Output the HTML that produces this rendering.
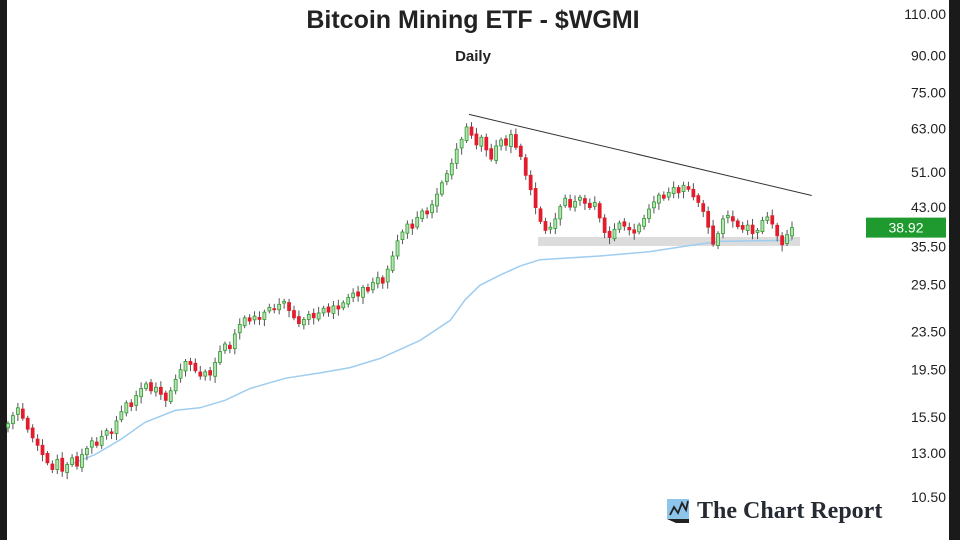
<!DOCTYPE html>
<html><head><meta charset="utf-8">
<style>
html,body{margin:0;padding:0;background:#fff;}
body{width:960px;height:540px;overflow:hidden;position:relative;font-family:"Liberation Sans",sans-serif;}
</style></head>
<body>
<svg id="chart" width="960" height="540" viewBox="0 0 960 540" xmlns="http://www.w3.org/2000/svg">
  <rect x="0" y="0" width="960" height="540" fill="#fff"/>
  <rect x="0" y="0" width="7" height="540" fill="#1a1a1a"/>
  <rect x="949" y="0" width="11" height="540" fill="#1a1a1a"/>
  <text x="473" y="28" text-anchor="middle" font-size="25" font-weight="bold" fill="#222">Bitcoin Mining ETF - $WGMI</text>
  <text x="473" y="61" text-anchor="middle" font-size="15" font-weight="bold" fill="#222">Daily</text>
  <g id="bands"></g>
  <g id="ma"></g>
  <g id="candles"></g>
  <g id="overlay"></g>
  <g id="yaxis"></g>
  <g>
    <rect x="667" y="499" width="22" height="20" fill="#8ec5ea"/>
    <polygon points="667,519 689,519 689,523 676,523" fill="#222"/>
    <polyline points="670,515 674,507 678,513 682,503 686,510 688,501" fill="none" stroke="#222" stroke-width="1.8"/>
  </g>
  <text x="697" y="518" font-family="Liberation Serif, serif" font-size="24" font-weight="bold" fill="#252a33">The Chart Report</text>
</svg>
<script>
const closes = [15.0,15.6,16.2,15.4,14.6,14.0,13.5,12.9,12.4,12.0,
12.6,11.9,12.3,12.7,12.2,12.9,13.3,13.8,13.5,14.1,
14.5,14.3,15.2,15.9,16.6,16.3,17.2,17.8,18.2,17.6,
17.9,17.3,16.8,17.6,18.6,19.5,20.3,20.0,19.4,18.9,
19.3,19.0,20.2,21.3,22.1,21.6,23.2,24.3,25.1,24.7,
25.3,24.9,25.8,26.4,26.1,26.8,27.2,26.0,25.1,24.4,
24.9,25.5,25.1,25.7,26.3,25.8,26.6,26.2,27.0,27.7,
28.3,27.9,29.1,28.6,29.8,30.5,29.7,31.8,33.9,36.5,
38.1,39.6,38.8,40.9,42.2,41.6,43.5,45.8,48.4,50.6,
53.2,57.0,59.8,63.5,61.0,58.2,60.4,56.8,54.3,57.9,
59.6,58.1,61.2,57.5,55.0,50.2,46.8,42.9,40.1,38.4,
39.0,40.6,43.1,44.9,43.0,44.2,45.1,43.8,42.9,44.0,
40.8,38.0,37.1,38.6,39.8,39.2,38.5,37.9,39.4,40.7,
42.6,44.1,45.6,44.9,46.2,47.3,46.1,47.8,46.9,45.2,
44.0,42.1,39.0,35.9,37.8,40.6,41.3,40.2,39.1,38.6,
39.4,37.8,38.4,40.3,41.0,39.6,37.4,35.8,37.6,38.92];
const maIndex = [12.6,17.6,22.7,27.8,33.9,38.9,44,49.1,56.2,63.3,69.4,75.5,83.6,89.7,92.7,95.7,99.8,103.9,107.9,120,130,140,144.4,159];
const maValues = [12.3,12.9,13.85,15.1,16.0,16.2,16.8,17.8,18.7,19.2,19.7,20.6,22.5,24.8,27.4,29.4,30.9,32.3,33.3,33.9,34.6,35.9,36.4,36.6];
const tickValues = [110,90,75,63,51,43,35.5,29.5,23.5,19.5,15.5,13,10.5];
const tickLabels = ["110.00","90.00","75.00","63.00","51.00","43.00","35.50","29.50","23.50","19.50","15.50","13.00","10.50"];
const lastPrice = 38.92;
const supportLevel = [35.6, 37.2];
const trendStart = [93.5, 67.5];
const trendEnd = [163, 45.5];

const NS='http://www.w3.org/2000/svg';
const X0=8, X1=792;
const step=(X1-X0)/(closes.length-1);
function xs(i){return X0+i*step;}
function ys(p){return 14+(Math.log(110)-Math.log(p))*205.6;}
function mk(tag,attrs,parent){const e=document.createElementNS(NS,tag);for(const k in attrs)e.setAttribute(k,attrs[k]);parent.appendChild(e);return e;}

const bands=document.getElementById('bands');
const band=mk('rect',{x:538,y:ys(supportLevel[1]),width:262,height:ys(supportLevel[0])-ys(supportLevel[1]),fill:'#dcdcdc'},bands);



const maG=document.getElementById('ma');
const maPts=maIndex.map((i,k)=>xs(i).toFixed(1)+','+ys(maValues[k]).toFixed(1)).join(' ');
const maLine=mk('polyline',{points:maPts,fill:'none',stroke:'#9fcdf0','stroke-width':1.5},maG);



const cg=document.getElementById('candles');
const bw=Math.max(2,step*0.6);
for(let i=0;i<closes.length;i++){
  const c=closes[i];
  const o=i===0?closes[0]*0.98:closes[i-1]*(1+((i%3)-1)*0.006);
  const hi=Math.max(o,c)*(1+0.012+(i%4)*0.006);
  const lo=Math.min(o,c)*(1-0.012-((i+2)%5)*0.005);
  const up=c>=o;
  const g=mk('g',{},cg);
  
  
  const x=xs(i);
  mk('line',{x1:x,x2:x,y1:ys(hi),y2:ys(lo),stroke:'#555','stroke-width':1},g);
  const top=ys(Math.max(o,c)), bot=ys(Math.min(o,c));
  mk('rect',{x:x-bw/2,y:top,width:bw,height:Math.max(1,bot-top),fill:up?'#b7e0b7':'#e21d2c',stroke:up?'#2e9b2e':'#e21d2c','stroke-width':0.8},g);
}

const ov=document.getElementById('overlay');
const tl=mk('line',{x1:xs(trendStart[0]),y1:ys(trendStart[1]),x2:xs(trendEnd[0]),y2:ys(trendEnd[1]),stroke:'#333','stroke-width':1},ov);



const ya=document.getElementById('yaxis');
tickValues.forEach((v,k)=>{
  const t=mk('text',{x:946,y:ys(v)+5,'text-anchor':'end','font-size':14,fill:'#222'},ya);
  t.textContent=tickLabels[k];
  
  
});
const py=ys(lastPrice);
const pb=mk('rect',{x:866,y:py-10,width:80,height:20,fill:'#1e9a2e'},ya);


const pt=mk('text',{x:906,y:py+5,'text-anchor':'middle','font-size':14,fill:'#fff'},ya);
pt.textContent=lastPrice.toFixed(2);


</script>
</body></html>
